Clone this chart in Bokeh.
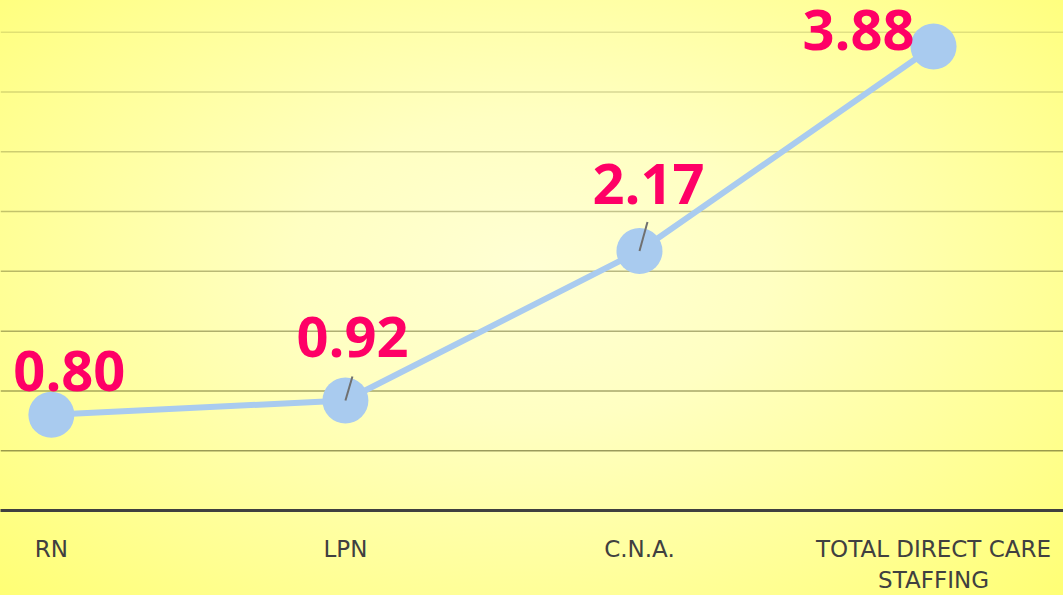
from bokeh.plotting import figure
from bokeh.models import ColumnDataSource, FixedTicker, Range1d, Span
from bokeh.core.properties import value
from bokeh.embed import file_html
from bokeh.resources import INLINE

# Staffing hours per resident day
categories = ["RN", "LPN", "C.N.A.", "TOTAL DIRECT CARE\nSTAFFING"]
hours = [0.80, 0.92, 2.17, 3.88]
value_labels = ["0.80", "0.92", "2.17", "3.88"]
grid_values = [0.5, 1.0, 1.5, 2.0, 2.5, 3.0, 3.5, 4.0]

# Hand-placed data label offsets (screen px, relative to each point)
label_dx = [18, 7, 9, -75]
label_dy = [-44, -63, -67, -17]
# Leader lines for the labels that sit away from their points
leader_idx = [1, 2]
leader_dx = [7, 8]
leader_dy = [-24, -29]

W, H = 1063, 595
x0, x1 = -0.173, 3.442
y0, y1 = 0.0, 4.265
frame_h = 511
px_x = W / (x1 - x0)
px_y = frame_h / (y1 - y0)

xs = list(range(len(categories)))

p = figure(width=W, height=H, x_range=Range1d(x0, x1), y_range=Range1d(y0, y1),
           output_backend="svg", toolbar_location=None,
           min_border_left=0, min_border_right=0, min_border_top=0,
           min_border_bottom=H - frame_h)
p.styles = {"background": "radial-gradient(ellipse 75% 85% at 50% 45%, #FFFFD4 0%, #FFFFC2 30%, #FFFF92 70%, #FFFF6C 100%)"}
p.background_fill_color = None
p.border_fill_color = None
p.outline_line_color = None

# horizontal gridlines, fading toward the top
for g in grid_values:
    a = 0.65 - 0.45 * (g - grid_values[0]) / (grid_values[-1] - grid_values[0])
    p.add_layout(Span(location=g, dimension="width", line_color="#66662a",
                      line_alpha=a, line_width=1.5, level="underlay"))
p.xgrid.visible = False
p.ygrid.visible = False
p.yaxis.visible = False

ax = p.xaxis[0]
ax.ticker = FixedTicker(ticks=xs)
ax.major_label_overrides = {i: c for i, c in zip(xs, categories)}
ax.major_tick_line_color = None
ax.minor_tick_line_color = None
ax.major_tick_out = 0
ax.major_tick_in = 0
ax.major_label_standoff = 25
ax.axis_line_color = "#404040"
ax.axis_line_width = 3
ax.major_label_text_font = "DejaVu Sans"
ax.major_label_text_font_size = "23px"
ax.major_label_text_color = "#404040"

src = ColumnDataSource(dict(x=xs, y=hours, label=value_labels, dx=label_dx, dy=label_dy))

p.line("x", "y", source=src, line_color="#A9CBEF", line_width=6)
p.scatter("x", "y", source=src, size=46, fill_color="#A9CBEF", line_color=None)

lx = [xs[i] for i in leader_idx]
ly = [hours[i] for i in leader_idx]
p.segment(x0=lx, y0=ly,
          x1=[x + d / px_x for x, d in zip(lx, leader_dx)],
          y1=[y - d / px_y for y, d in zip(ly, leader_dy)],
          line_color="#707070", line_width=2)

p.text("x", "y", text="label", source=src, x_offset="dx", y_offset="dy",
       text_font=value("Open Sans"), text_font_style="bold", text_font_size="56px",
       text_color="#FF0066", text_align="center", text_baseline="alphabetic")

open("out.html", "w").write(file_html(p, INLINE))
